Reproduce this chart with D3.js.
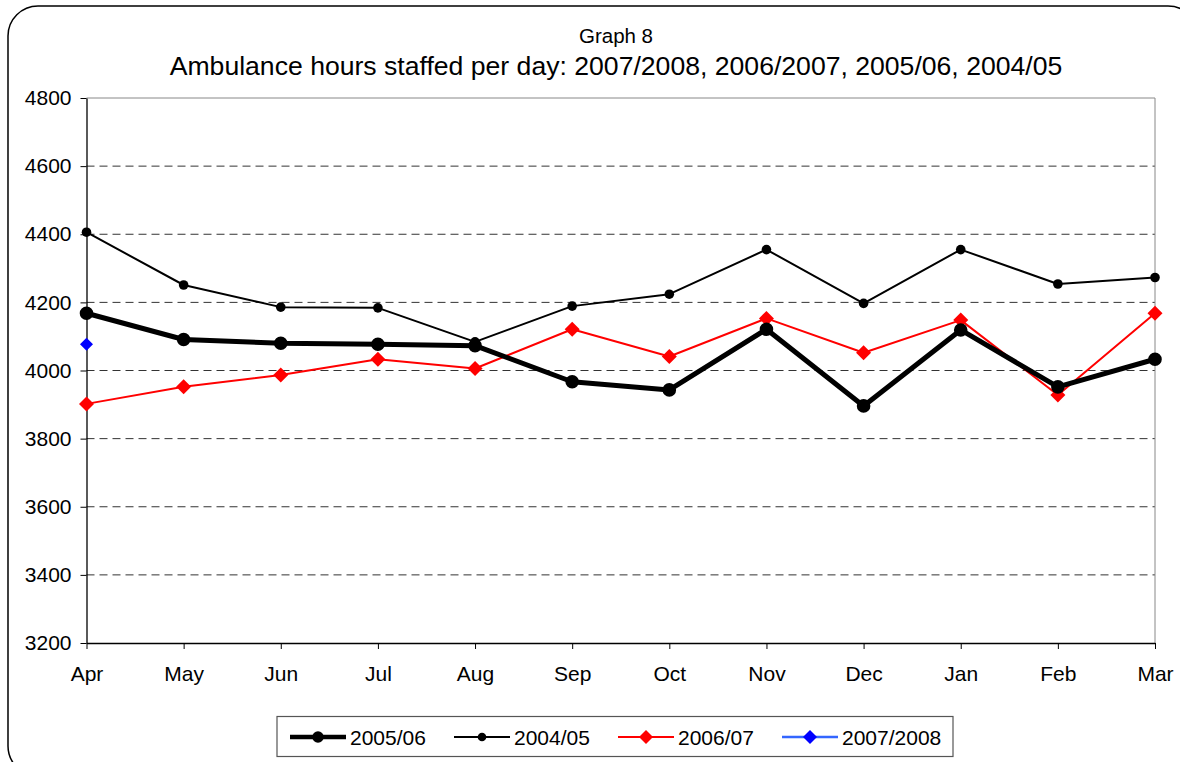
<!DOCTYPE html>
<html>
<head>
<meta charset="utf-8">
<script src="https://cdn.jsdelivr.net/npm/d3@7"></script>
<style>
  body { margin: 0; background: #fff; }
  text { font-family: "Liberation Sans", Arial, sans-serif; fill: #000; }
</style>
</head>
<body>
<div id="vis"></div>
<script>
// data
let months = ['Apr', 'May', 'Jun', 'Jul', 'Aug', 'Sep', 'Oct', 'Nov', 'Dec', 'Jan', 'Feb', 'Mar'];
let yTicks = [3200, 3400, 3600, 3800, 4000, 4200, 4400, 4600, 4800];
let s2005 = [4168, 4091, 4080, 4077, 4073, 3967, 3943, 4121, 3896, 4119, 3952, 4033];
let s2004 = [4406, 4251, 4186, 4184, 4084, 4189, 4224, 4355, 4197, 4355, 4254, 4273];
let s2006 = [3902, 3952, 3987, 4033, 4006, 4121, 4041, 4153, 4052, 4148, 3928, 4168];
let s2007 = [4077];
let seriesNames = ['2005/06', '2004/05', '2006/07', '2007/2008'];

let W = 1180, H = 762;
let margin = {top: 98, left: 86.5, right: 25, bottom: 119};

let svg = d3.select('#vis').append('svg')
  .attr('width', W)
  .attr('height', H);

// outer rounded frame
svg.append('rect')
  .attr('x', 8).attr('y', 6)
  .attr('width', 1190).attr('height', 770)
  .attr('rx', 30)
  .attr('fill', 'none')
  .attr('stroke', '#000')
  .attr('stroke-width', 1.5);

let x = d3.scalePoint().domain(months).range([margin.left, W - margin.right]);
let y = d3.scaleLinear().domain([3200, 4800]).range([H - margin.bottom, margin.top]);

// gridlines
svg.append('g')
  .selectAll('line')
  .data(yTicks.filter(d => d > 3200 && d < 4800))
  .enter().append('line')
  .attr('x1', margin.left).attr('x2', W - margin.right)
  .attr('y1', d => y(d)).attr('y2', d => y(d))
  .attr('stroke', '#333')
  .attr('stroke-dasharray', '8,5');

// plot border top / right in gray
svg.append('path')
  .attr('d', `M${margin.left},${y(4800)}H${W - margin.right}V${y(3200)}`)
  .attr('fill', 'none')
  .attr('stroke', '#888');

// axes
let xAxis = d3.axisBottom(x).tickSize(6).tickSizeOuter(0).tickPadding(17);
let yAxis = d3.axisLeft(y).tickValues(yTicks).tickFormat(d3.format('d'))
  .tickSize(6).tickSizeOuter(0).tickPadding(9);

let gx = svg.append('g')
  .attr('transform', `translate(0,${y(3200)})`)
  .call(xAxis);
let gy = svg.append('g')
  .attr('transform', `translate(${margin.left},0)`)
  .call(yAxis);
[gx, gy].forEach(g => {
  g.selectAll('path').attr('stroke', '#000').attr('stroke-width', 1.3);
  g.selectAll('line').attr('stroke', '#000');
  g.selectAll('text').style('font-size', '21px').style('font-family', '"Liberation Sans", Arial, sans-serif');
});

// titles
svg.append('text')
  .attr('x', 616).attr('y', 43)
  .attr('text-anchor', 'middle')
  .style('font-size', '20.5px')
  .text('Graph 8');
svg.append('text')
  .attr('x', 616).attr('y', 75)
  .attr('text-anchor', 'middle')
  .style('font-size', '26.6px')
  .text('Ambulance hours staffed per day: 2007/2008, 2006/2007, 2005/06, 2004/05');

let line = d3.line().x((d, i) => x(months[i])).y(d => y(d));
let diamond = r => `M0,${-r}L${r},0L0,${r}L${-r},0Z`;

function drawSeries(vals, color, width, marker, size) {
  let g = svg.append('g');
  if (vals.length > 1) {
    g.append('path')
      .datum(vals)
      .attr('d', line)
      .attr('fill', 'none')
      .attr('stroke', color)
      .attr('stroke-width', width)
      .attr('stroke-linejoin', 'round');
  }
  g.selectAll('.pt')
    .data(vals)
    .enter().append('path')
    .attr('class', 'pt')
    .attr('transform', (d, i) => `translate(${x(months[i])},${y(d)})`)
    .attr('d', marker == 'circle' ? d3.symbol(d3.symbolCircle, Math.PI * size * size)() : diamond(size))
    .attr('fill', marker == 'circle' ? '#000' : color);
}

drawSeries(s2004, '#000', 2, 'circle', 4.8);
drawSeries(s2006, '#ff0000', 2, 'diamond', 7.5);
drawSeries(s2005, '#000', 5, 'circle', 6.8);
drawSeries(s2007, '#0000ff', 2, 'diamond', 6.5);

// legend
let legendStyle = [
  {color: '#000', width: 4.5, marker: 'circle', size: 5.8, fill: '#000'},
  {color: '#000', width: 2, marker: 'circle', size: 4.3, fill: '#000'},
  {color: '#ff0000', width: 2, marker: 'diamond', size: 7, fill: '#ff0000'},
  {color: '#3366ff', width: 2.5, marker: 'diamond', size: 7, fill: '#0000ff'}
];
svg.append('rect')
  .attr('x', 277).attr('y', 716.5)
  .attr('width', 676).attr('height', 40)
  .attr('fill', '#fff')
  .attr('stroke', '#555')
  .attr('stroke-width', 1.2);

let leg = svg.selectAll('.leg')
  .data(seriesNames)
  .enter().append('g')
  .attr('class', 'leg')
  .attr('transform', (d, i) => `translate(${290 + i * 164},737)`);
leg.append('line')
  .attr('x1', 0).attr('x2', 56)
  .attr('stroke', (d, i) => legendStyle[i].color)
  .attr('stroke-width', (d, i) => legendStyle[i].width);
leg.append('path')
  .attr('transform', 'translate(28,0)')
  .attr('d', (d, i) => legendStyle[i].marker == 'circle'
    ? d3.symbol(d3.symbolCircle, Math.PI * legendStyle[i].size * legendStyle[i].size)()
    : diamond(legendStyle[i].size))
  .attr('fill', (d, i) => legendStyle[i].fill);
leg.append('text')
  .attr('x', 60).attr('y', 7.5)
  .style('font-size', '21px')
  .text(d => d);
</script>
</body>
</html>
